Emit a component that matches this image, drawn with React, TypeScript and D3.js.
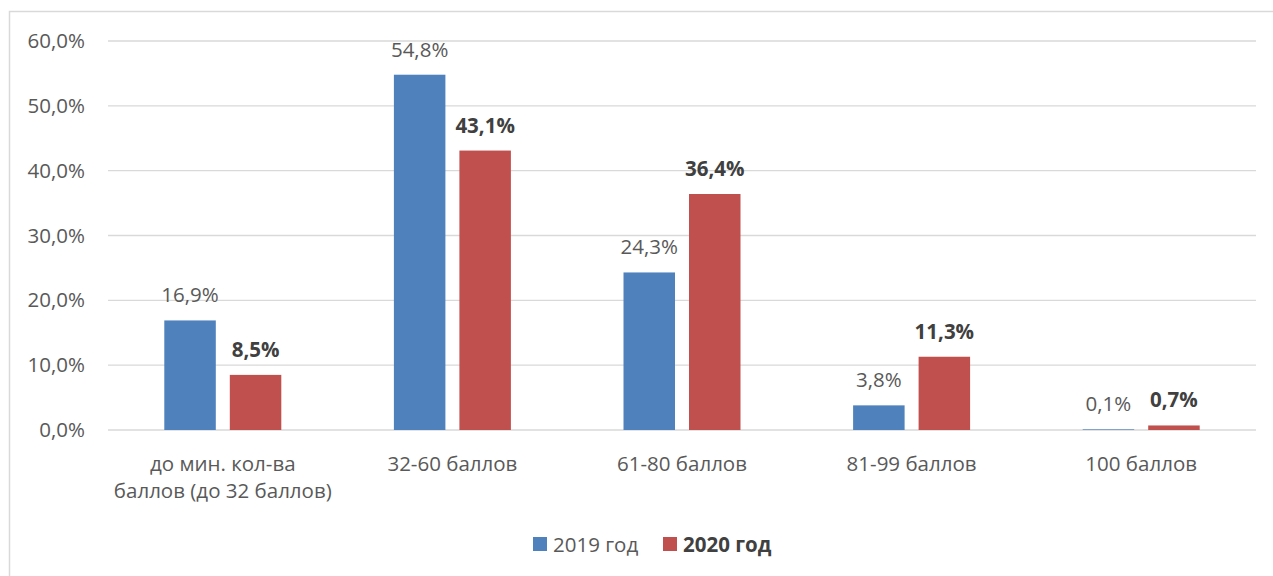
import React from "react";
import * as d3 from "d3";

const categories = [
  ["до мин. кол-ва", "баллов (до 32 баллов)"],
  ["32-60 баллов"],
  ["61-80 баллов"],
  ["81-99 баллов"],
  ["100 баллов"],
];
const seriesNames = ["2019 год", "2020 год"];
const values2019 = [16.9, 54.8, 24.3, 3.8, 0.1];
const values2020 = [8.5, 43.1, 36.4, 11.3, 0.7];
const yTicks = [0, 10, 20, 30, 40, 50, 60];
const colors = ["#4f81bd", "#c0504d"];

const W = 1273;
const H = 576;
const FONT = "'Open Sans', 'Liberation Sans', sans-serif";
const TEXT = "#595959";
const FS = 20.5;

export default function App() {
  const left = 108, right = 1256, top = 41, bottom = 430;
  const catKeys = categories.map((_, i) => String(i));
  const x0 = d3.scaleBand<string>().domain(catKeys).range([left, right]);
  const bw = x0.bandwidth();
  const x1 = d3
    .scaleBand<string>()
    .domain(seriesNames)
    .range([bw / 2 - 58.5, bw / 2 + 58.5])
    .paddingInner(14 / 65.5);
  const y = d3.scaleLinear().domain([0, 60]).range([bottom, top]);
  const fmt = (v: number) => d3.format(".1f")(v).replace(".", ",") + "%";
  const data = [values2019, values2020];

  return (
    <svg
      width={W}
      height={H}
      style={{ position: "absolute", left: 0, top: 0, background: "#fff" }}
      fontFamily={FONT}
    >
      <rect x={9.5} y={11.5} width={W + 10} height={H + 10} fill="#fff" stroke="#d9d9d9" strokeWidth={1.5} />
      {yTicks.map((t) => (
        <g key={t}>
          <line x1={left} x2={right} y1={y(t)} y2={y(t)} stroke="#d9d9d9" strokeWidth={t === 0 ? 1.5 : 1.3} />
          <text x={85} y={y(t) + 7} textAnchor="end" fontSize={FS} fill={TEXT}>
            {fmt(t)}
          </text>
        </g>
      ))}
      {catKeys.map((k, ci) => (
        <g key={k} transform={`translate(${x0(k)},0)`}>
          {seriesNames.map((s, si) => {
            const v = data[si][ci];
            const bx = x1(s)!;
            const by = y(v);
            return (
              <g key={s}>
                <rect x={bx} y={by} width={x1.bandwidth()} height={bottom - by} fill={colors[si]} />
                <text
                  x={bx + x1.bandwidth() / 2}
                  y={by - 18}
                  textAnchor="middle"
                  fontSize={FS}
                  fontWeight={si === 1 ? "bold" : "normal"}
                  fill={si === 1 ? "#404040" : TEXT}
                >
                  {fmt(v)}
                </text>
              </g>
            );
          })}
          {categories[ci].map((line, li) => (
            <text key={li} x={bw / 2} y={471 + li * 27} textAnchor="middle" fontSize={FS} fill={TEXT}>
              {line}
            </text>
          ))}
        </g>
      ))}
      <g>
        <rect x={533} y={537} width={14} height={14} fill={colors[0]} />
        <text x={553} y={552} fontSize={FS} fill={TEXT}>
          {seriesNames[0]}
        </text>
        <rect x={663} y={537} width={14} height={14} fill={colors[1]} />
        <text x={683} y={552} fontSize={FS} fontWeight="bold" fill="#404040">
          {seriesNames[1]}
        </text>
      </g>
    </svg>
  );
}
